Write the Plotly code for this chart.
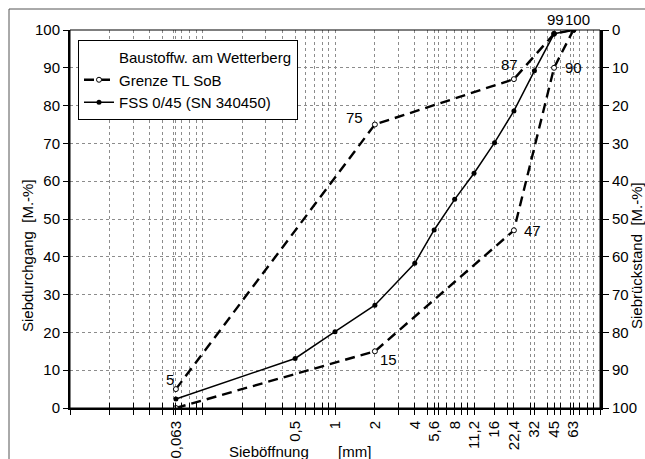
import math
import plotly.graph_objects as go

# Sieve sizes [mm] and passing percentages
sieve_mm = [0.063, 0.5, 1, 2, 4, 5.6, 8, 11.2, 16, 22.4, 32, 45, 63]
fss_passing = [2.4, 13.1, 20.2, 27.2, 38.3, 47.1, 55.2, 62.1, 70.2, 78.6, 89.2, 99, 100]

# TL SoB grading limits
limit_mm = [0.063, 2, 22.4, 45, 63]
upper_limit = [5, 75, 87, 99, 100]
lower_limit = [0, 15, 47, 90, 100]

legend_title = "Baustoffw. am Wetterberg"
name_limit = "Grenze TL SoB"
name_fss = "FSS 0/45 (SN 340450)"

FONT = "Liberation Sans, Arial, sans-serif"
FS = 15
W, H = 645, 459
ML, MR, MT, MB = 70, 45, 30, 51
PW, PH = W - ML - MR, H - MT - MB


def px(x):
    return (x - ML) / PW


def py(y):
    return (MT + PH - y) / PH


def fmt(v):
    return ("%g" % v).replace(".", ",")


# tick/grid positions: every 1..9 step per decade plus the sieve sizes
grid_vals = sorted(set([k * 10 ** d for d in range(-2, 2) for k in range(1, 10)] + [100] + sieve_mm))
grid_vals = [round(v, 6) for v in grid_vals]
sieve_set = set(round(s, 6) for s in sieve_mm)
grid_text = [fmt(v) if v in sieve_set else "" for v in grid_vals]

fig = go.Figure()

# legend heading as an empty entry so that it lines up with the entry texts
fig.add_trace(go.Scatter(
    x=[None], y=[None], mode="lines", name=legend_title,
    line=dict(width=0, color="rgba(0,0,0,0)"), legendgroup="g0", hoverinfo="skip"))

# limit curves drawn as one dashed series (upper, gap, lower)
lim_x = limit_mm + [None] + limit_mm
lim_y = upper_limit + [None] + lower_limit
fig.add_trace(go.Scatter(
    x=lim_x, y=lim_y, mode="lines+markers", name=name_limit, legendgroup="g1",
    line=dict(color="black", width=2.4, dash="10px,6px"),
    marker=dict(symbol="circle", size=5, color="white", line=dict(color="black", width=1)),
    connectgaps=False))

fig.add_trace(go.Scatter(
    x=sieve_mm, y=fss_passing, mode="lines+markers", name=name_fss, legendgroup="g2",
    line=dict(color="black", width=1.5),
    marker=dict(symbol="circle", size=5, color="black")))

# retained percentage on the secondary (right) axis
fss_retained = [100 - v for v in fss_passing]
fig.add_trace(go.Scatter(
    x=sieve_mm, y=fss_retained, xaxis="x2", yaxis="y2", mode="lines",
    line=dict(color="rgba(0,0,0,0)", width=0), showlegend=False, hoverinfo="skip"))

# value labels on the limit points: (x, y, xshift, yshift)
label_pos = [
    (limit_mm[0], upper_limit[0], -6, 10),
    (limit_mm[1], upper_limit[1], -20, 7),
    (limit_mm[2], upper_limit[2], -4, 15),
    (limit_mm[3], upper_limit[3], 1, 14),
    (limit_mm[4], upper_limit[4], 4, 11),
    (limit_mm[1], lower_limit[1], 14, -8),
    (limit_mm[2], lower_limit[2], 19, 0),
    (limit_mm[3], lower_limit[3], 19, 0),
]
annotations = []
for x, y, dx, dy in label_pos:
    annotations.append(dict(
        x=math.log10(x), y=y, xref="x", yref="y", text=fmt(y), showarrow=False,
        xanchor="center", yanchor="middle",
        xshift=dx, yshift=dy, font=dict(family=FONT, size=FS, color="black")))

nb = "\u00a0"
title_font = dict(family=FONT, size=FS, color="black")
annotations += [
    dict(x=px(27), y=py(256), xref="paper", yref="paper", text="Siebdurchgang" + nb * 2 + "[M.-%]",
         textangle=-90, showarrow=False, xanchor="center", yanchor="middle", font=title_font),
    dict(x=px(636), y=py(256), xref="paper", yref="paper", text="Siebrückstand" + nb * 2 + "[M.-%]",
         textangle=-90, showarrow=False, xanchor="center", yanchor="middle", font=title_font),
    dict(x=px(300), y=py(452), xref="paper", yref="paper", text="Sieböffnung" + nb * 7 + "[mm]",
         showarrow=False, xanchor="center", yanchor="middle", font=title_font),
]

grid_style = dict(showgrid=True, gridcolor="#8c8c8c", gridwidth=1, griddash="dot")

fig.update_layout(
    width=W, height=H,
    margin=dict(l=ML, r=MR, t=MT, b=MB, autoexpand=False),
    paper_bgcolor="white", plot_bgcolor="white",
    font=dict(family=FONT, size=FS, color="black"),
    showlegend=True,
    legend=dict(
        x=px(78), y=py(40), xanchor="left", yanchor="top",
        bgcolor="white", bordercolor="black", borderwidth=1,
        font=dict(family=FONT, size=FS, color="black"),
        tracegroupgap=10, traceorder="normal"),
    xaxis=dict(
        type="log", range=[-2, 2], tickmode="array", tickvals=grid_vals, ticktext=grid_text,
        tickangle=-90, ticks="outside", ticklen=5, tickwidth=1, tickcolor="black",
        showline=True, linecolor="black", linewidth=2, zeroline=False, automargin=False,
        tickfont=dict(family=FONT, size=FS, color="black"), **grid_style),
    xaxis2=dict(
        type="log", range=[-2, 2], overlaying="x", anchor="y", side="bottom",
        tickmode="array", tickvals=grid_vals, ticks="inside", ticklen=5, tickwidth=1,
        tickcolor="black", showticklabels=False, showgrid=False, showline=False,
        zeroline=False, automargin=False),
    yaxis=dict(
        range=[0, 100], tickmode="array", tickvals=list(range(0, 101, 10)),
        ticks="outside", ticklen=5, tickwidth=1, tickcolor="black",
        showline=True, linecolor="black", linewidth=2, zeroline=False, automargin=False,
        tickfont=dict(family=FONT, size=FS, color="black"), **grid_style),
    yaxis2=dict(
        range=[100, 0], overlaying="y", side="right", anchor="x",
        tickmode="array", tickvals=list(range(0, 101, 10)),
        ticks="outside", ticklen=6, tickwidth=1, tickcolor="black",
        showline=True, linecolor="black", linewidth=3, showgrid=False, zeroline=False,
        automargin=False, tickfont=dict(family=FONT, size=FS, color="black")),
    annotations=annotations,
    shapes=[
        dict(type="rect", xref="paper", yref="paper", x0=0, y0=0, x1=1, y1=1,
             line=dict(color="black", width=1)),
        dict(type="rect", xref="paper", yref="paper", x0=px(9), y0=py(9), x1=px(700), y1=py(520),
             line=dict(color="#555555", width=1)),
    ],
)

fig.write_html("out.html")
